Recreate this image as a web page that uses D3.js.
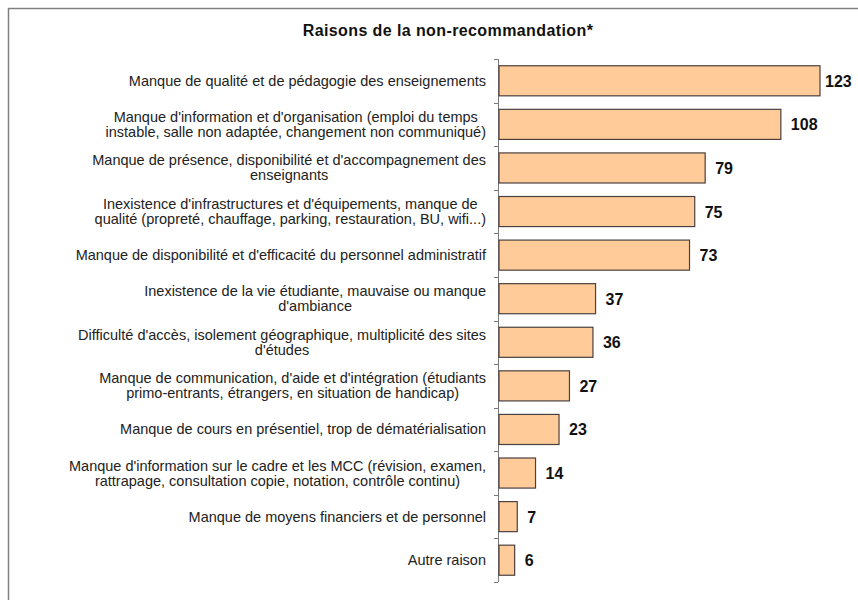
<!DOCTYPE html>
<html>
<head>
<meta charset="utf-8">
<script src="https://cdn.jsdelivr.net/npm/d3@7"></script>
<style>
  html, body { margin: 0; padding: 0; background: #fff; }
  svg { display: block; }
</style>
</head>
<body>
<svg id="chart" width="858" height="600"></svg>
<script>
// Reasons for not recommending the university (number of mentions)
const title = "Raisons de la non-recommandation*";

const categories = [
  ["Manque de qualité et de pédagogie des enseignements"],
  ["Manque d'information et d'organisation (emploi du temps", "instable, salle non adaptée, changement non communiqué)"],
  ["Manque de présence, disponibilité et d'accompagnement des", "enseignants"],
  ["Inexistence d'infrastructures et d'équipements, manque de", "qualité (propreté, chauffage, parking, restauration, BU, wifi...)"],
  ["Manque de disponibilité et d'efficacité du personnel administratif"],
  ["Inexistence de la vie étudiante, mauvaise ou manque", "d'ambiance"],
  ["Difficulté d'accès, isolement géographique, multiplicité des sites", "d'études"],
  ["Manque de communication, d'aide et d'intégration (étudiants", "primo-entrants, étrangers, en situation de handicap)"],
  ["Manque de cours en présentiel, trop de dématérialisation"],
  ["Manque d'information sur le cadre et les MCC (révision, examen,", "rattrapage, consultation copie, notation, contrôle continu)"],
  ["Manque de moyens financiers et de personnel"],
  ["Autre raison"]
];

const values = [123, 108, 79, 75, 73, 37, 36, 27, 23, 14, 7, 6];

const svg = d3.select("#chart");
const W = 858, H = 600;
const font = "Arial, 'Liberation Sans', sans-serif";

// Outer chart frame (partly cut by the canvas)
svg.append("rect")
  .attr("x", 8.5).attr("y", 8.5)
  .attr("width", W + 20).attr("height", H + 20)
  .attr("fill", "none")
  .attr("stroke", "#808080")
  .attr("stroke-width", 1.5);

svg.append("text")
  .attr("x", 448).attr("y", 36)
  .attr("text-anchor", "middle")
  .attr("font-family", font)
  .attr("font-size", 16)
  .attr("font-weight", "bold")
  .attr("letter-spacing", 0.4)
  .attr("fill", "#111")
  .text(title);

const plot = { left: 498, top: 59, bottom: 582 };

const idx = d3.range(values.length);
const y = d3.scaleBand()
  .domain(idx)
  .range([plot.top, plot.bottom])
  .paddingInner(0.31)
  .paddingOuter(0.155);

const x = d3.scaleLinear()
  .domain([0, 123])
  .range([plot.left, 819]);

// Category axis with outward ticks at band boundaries
const axisG = svg.append("g");
axisG.append("line")
  .attr("x1", plot.left + 0.5).attr("x2", plot.left + 0.5)
  .attr("y1", plot.top).attr("y2", plot.bottom)
  .attr("stroke", "#7a7a7a").attr("stroke-width", 1);
const step = (plot.bottom - plot.top) / values.length;
axisG.selectAll("line.tick")
  .data(d3.range(values.length + 1))
  .join("line")
  .attr("class", "tick")
  .attr("x1", plot.left - 4).attr("x2", plot.left)
  .attr("y1", d => Math.round(plot.top + d * step) + 0.5)
  .attr("y2", d => Math.round(plot.top + d * step) + 0.5)
  .attr("stroke", "#7a7a7a");

// Bars
svg.append("g").selectAll("rect")
  .data(values)
  .join("rect")
  .attr("x", x(0) + 1)
  .attr("y", (d, i) => y(i))
  .attr("width", d => x(d) - x(0))
  .attr("height", y.bandwidth())
  .attr("fill", "#FFCC99")
  .attr("stroke", "#4a4040")
  .attr("stroke-width", 1.2);

// Value labels
svg.append("g").selectAll("text")
  .data(values)
  .join("text")
  .attr("x", d => Math.min(x(d) + 11, 825))
  .attr("y", (d, i) => y(i) + y.bandwidth() / 2 + 6)
  .attr("font-family", font)
  .attr("font-size", 16)
  .attr("font-weight", "bold")
  .attr("fill", "#111")
  .text(d => d);

// Category labels: block right-aligned to the axis, lines centred within the block
const labelRight = 486;
const lineH = 15;
const lab = svg.append("g");
categories.forEach((lines, i) => {
  const g = lab.append("g");
  const cy = y(i) + y.bandwidth() / 2;
  const texts = lines.map((t, k) => g.append("text")
    .attr("font-family", font)
    .attr("font-size", 14.5)
    .attr("fill", "#222")
    .attr("text-anchor", "middle")
    .attr("y", cy + (k - (lines.length - 1) / 2) * lineH + 5)
    .text(t));
  const maxW = d3.max(texts, t => t.node().getComputedTextLength());
  texts.forEach(t => t.attr("x", labelRight - maxW / 2));
});
</script>
</body>
</html>
